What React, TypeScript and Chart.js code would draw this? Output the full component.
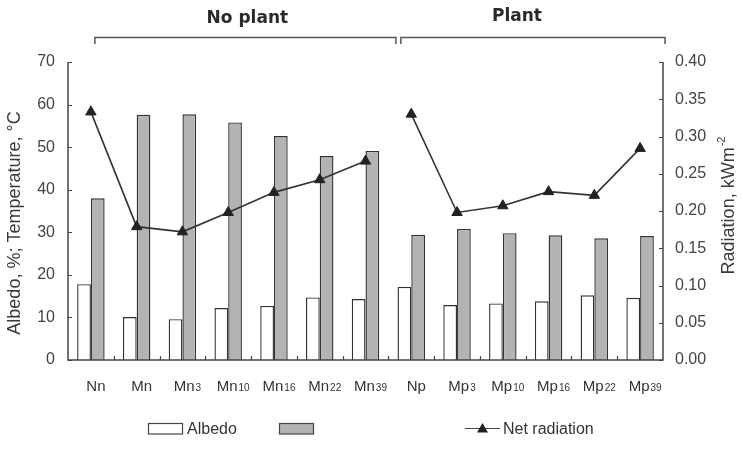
import { useEffect, useRef } from "react";
import { Chart, registerables } from "chart.js";

Chart.register(...registerables);

// Treatments along the x axis (trailing digits are printed as subscripts)
const categories = ["Nn", "Mn", "Mn3", "Mn10", "Mn16", "Mn22", "Mn39", "Np", "Mp3", "Mp10", "Mp16", "Mp22", "Mp39"];

// Albedo, % (left axis)
const albedo = [17.8, 10.1, 9.6, 12.2, 12.7, 14.7, 14.3, 17.2, 12.9, 13.3, 13.8, 15.2, 14.6];

// Temperature, °C (left axis)
const temperature = [38.0, 57.6, 57.7, 55.8, 52.6, 47.9, 49.1, 29.4, 30.8, 29.8, 29.3, 28.6, 29.1];

// Net radiation, kW m-2 (right axis)
const netRadiation = [0.333, 0.179, 0.172, 0.198, 0.225, 0.242, 0.267, 0.330, 0.198, 0.207, 0.226, 0.221, 0.284];

// Group brackets above the plot: first and last category index of each group
const groupNames = ["No plant", "Plant"];
const groupFirst = [0, 7];
const groupLast = [6, 12];

const legendLabels = ["Albedo", "", "Net radiation"];

const leftAxis = { min: 0, max: 70, step: 10 };
const rightAxis = { min: 0, max: 0.4, step: 0.05 };

const INK = "#333";
const AXIS = "#444";
const BAR_GRAY = "#b3b3b3";
const FONT = '"Liberation Sans", Arial, sans-serif';

const decorations = {
  id: "decorations",
  afterDraw(chart: any) {
    const { ctx, chartArea: a, scales } = chart;
    const x = scales.x;
    const y = scales.y;
    const y2 = scales.y2;
    const boundary = (i: number) => (x.getPixelForValue(i - 1) + x.getPixelForValue(i)) / 2;

    ctx.save();
    ctx.strokeStyle = AXIS;
    ctx.lineWidth = 1.5;

    // axis lines (left, right, bottom)
    ctx.beginPath();
    ctx.moveTo(a.left, a.top);
    ctx.lineTo(a.left, a.bottom);
    ctx.lineTo(a.right, a.bottom);
    ctx.lineTo(a.right, a.top);
    ctx.stroke();

    // inward tick marks
    ctx.lineWidth = 1.2;
    ctx.beginPath();
    y.ticks.forEach((_t: any, i: number) => {
      const p = Math.round(y.getPixelForTick(i)) + 0.5;
      ctx.moveTo(a.left, p);
      ctx.lineTo(a.left + 4, p);
    });
    y2.ticks.forEach((_t: any, i: number) => {
      const p = Math.round(y2.getPixelForTick(i)) + 0.5;
      ctx.moveTo(a.right - 4, p);
      ctx.lineTo(a.right, p);
    });
    for (let i = 1; i < categories.length; i++) {
      const p = Math.round(boundary(i)) + 0.5;
      ctx.moveTo(p, a.bottom);
      ctx.lineTo(p, a.bottom - 4);
    }
    ctx.stroke();

    // category labels with subscript digits
    ctx.fillStyle = INK;
    ctx.textBaseline = "alphabetic";
    ctx.textAlign = "left";
    const baseFont = `15px ${FONT}`;
    const subFont = `10px ${FONT}`;
    categories.forEach((label, i) => {
      const m = /^(\D+)(\d*)$/.exec(label);
      const main = m ? m[1] : label;
      const sub = m ? m[2] : "";
      ctx.font = baseFont;
      const w1 = ctx.measureText(main).width;
      ctx.font = subFont;
      const w2 = sub ? ctx.measureText(sub).width + 1 : 0;
      const cx = x.getPixelForValue(i) + 5;
      const start = cx - (w1 + w2) / 2;
      const base = a.bottom + 31;
      ctx.font = baseFont;
      ctx.fillText(main, start, base);
      if (sub) {
        ctx.font = subFont;
        ctx.fillText(sub, start + w1 + 1, base);
      }
    });

    // axis titles
    ctx.font = `18px ${FONT}`;
    ctx.fillStyle = "#3a3a3a";
    ctx.save();
    ctx.translate(15, (a.top + a.bottom) / 2 + 12);
    ctx.rotate(-Math.PI / 2);
    ctx.textAlign = "center";
    ctx.textBaseline = "middle";
    ctx.fillText("Albedo, %; Temperature, °C", 0, 0);
    ctx.restore();

    ctx.save();
    ctx.translate(a.right + 66, (a.top + a.bottom) / 2 - 5);
    ctx.rotate(-Math.PI / 2);
    ctx.textBaseline = "middle";
    ctx.textAlign = "left";
    const rMain = "Radiation, kWm";
    const rSup = "-2";
    ctx.font = `18px ${FONT}`;
    const rw1 = ctx.measureText(rMain).width;
    ctx.font = `11px ${FONT}`;
    const rw2 = ctx.measureText(rSup).width;
    const rs = -(rw1 + rw2) / 2;
    ctx.font = `18px ${FONT}`;
    ctx.fillText(rMain, rs, 0);
    ctx.font = `11px ${FONT}`;
    ctx.fillText(rSup, rs + rw1 + 1, -7);
    ctx.restore();

    // group brackets and names
    const split = boundary(groupFirst[1]) + 10;
    const spans = [
      [x.getPixelForValue(groupFirst[0]) + 4, split - 2.5],
      [split + 2.5, a.right + 2],
    ];
    const nameShift = [2, -16];
    const nameBase = [23, 21];
    ctx.strokeStyle = "#555";
    ctx.lineWidth = 1.5;
    spans.forEach(([l, r], g) => {
      ctx.beginPath();
      ctx.moveTo(l, 44);
      ctx.lineTo(l, 37.5);
      ctx.lineTo(r, 37.5);
      ctx.lineTo(r, 44);
      ctx.stroke();
      ctx.font = 'bold 17px "DejaVu Sans", sans-serif';
      ctx.fillStyle = "#2a2a2a";
      ctx.textAlign = "center";
      ctx.textBaseline = "alphabetic";
      ctx.fillText(groupNames[g], (l + r) / 2 + nameShift[g], nameBase[g]);
    });

    // legend
    const ly = 428.5;
    ctx.lineWidth = 1.2;
    ctx.strokeStyle = AXIS;
    ctx.fillStyle = "#fff";
    ctx.fillRect(148, ly - 5.5, 35, 11);
    ctx.strokeRect(148.5, ly - 5, 34, 10.5);
    ctx.fillStyle = BAR_GRAY;
    ctx.fillRect(279, ly - 5.5, 35, 11);
    ctx.strokeRect(279.5, ly - 5, 34, 10.5);
    ctx.beginPath();
    ctx.moveTo(465, ly);
    ctx.lineTo(500, ly);
    ctx.stroke();
    ctx.fillStyle = "#222";
    ctx.beginPath();
    ctx.moveTo(482.5, ly - 5.5);
    ctx.lineTo(488, ly + 4);
    ctx.lineTo(477, ly + 4);
    ctx.closePath();
    ctx.fill();
    ctx.font = `16px ${FONT}`;
    ctx.fillStyle = INK;
    ctx.textAlign = "left";
    ctx.textBaseline = "middle";
    ctx.fillText(legendLabels[0], 187, ly + 1);
    if (legendLabels[1]) ctx.fillText(legendLabels[1], 318, ly + 1);
    ctx.fillText(legendLabels[2], 503, ly + 1);

    ctx.restore();
  },
};

export default function App() {
  const ref = useRef<HTMLCanvasElement>(null);

  useEffect(() => {
    if (!ref.current) return;
    const chart = new Chart(ref.current, {
      type: "bar",
      data: {
        labels: categories,
        datasets: [
          {
            type: "bar",
            label: legendLabels[0],
            data: albedo,
            yAxisID: "y",
            backgroundColor: "#ffffff",
            borderColor: INK,
            borderWidth: 1.4,
            categoryPercentage: 0.6,
            barPercentage: 1.0,
            order: 2,
          },
          {
            type: "bar",
            label: legendLabels[1],
            data: temperature,
            yAxisID: "y",
            backgroundColor: BAR_GRAY,
            borderColor: INK,
            borderWidth: 1.4,
            categoryPercentage: 0.6,
            barPercentage: 1.0,
            order: 2,
          },
          {
            type: "line",
            label: legendLabels[2],
            data: netRadiation,
            yAxisID: "y2",
            borderColor: INK,
            borderWidth: 1.6,
            // the line is not joined across the two groups
            segment: {
              borderColor: (c: any) => (groupLast.includes(c.p0DataIndex) ? "rgba(0,0,0,0)" : INK),
            },
            pointStyle: "triangle",
            pointRadius: 6,
            pointBackgroundColor: "#222",
            pointBorderColor: "#222",
            pointBorderWidth: 1,
            tension: 0,
            order: 1,
          },
        ],
      },
      options: {
        animation: false,
        responsive: false,
        devicePixelRatio: 1,
        layout: { padding: { top: 62, left: 0, right: 0, bottom: 0 } },
        plugins: {
          legend: { display: false },
          tooltip: { enabled: false },
        },
        scales: {
          x: {
            offset: true,
            grid: { display: false },
            border: { display: false },
            ticks: { display: false },
            afterFit: (s: any) => {
              s.height = 91;
            },
          },
          y: {
            position: "left",
            min: leftAxis.min,
            max: leftAxis.max,
            grid: { display: false, drawTicks: false },
            border: { display: false },
            ticks: {
              stepSize: leftAxis.step,
              padding: 13,
              color: "#444",
              font: { family: FONT, size: 16 },
            },
            afterFit: (s: any) => {
              s.width = 68;
            },
          },
          y2: {
            position: "right",
            min: rightAxis.min,
            max: rightAxis.max,
            grid: { display: false, drawTicks: false },
            border: { display: false },
            ticks: {
              stepSize: rightAxis.step,
              padding: 12,
              color: "#444",
              font: { family: FONT, size: 16 },
              callback: (v: any) => Number(v).toFixed(2),
            },
            afterFit: (s: any) => {
              s.width = 80;
            },
          },
        },
      },
      plugins: [decorations],
    });
    return () => chart.destroy();
  }, []);

  return (
    <div style={{ position: "fixed", left: 0, top: 0, width: 743, height: 451, background: "#fff" }}>
      <canvas ref={ref} width={743} height={451} style={{ display: "block", width: 743, height: 451 }} />
    </div>
  );
}
